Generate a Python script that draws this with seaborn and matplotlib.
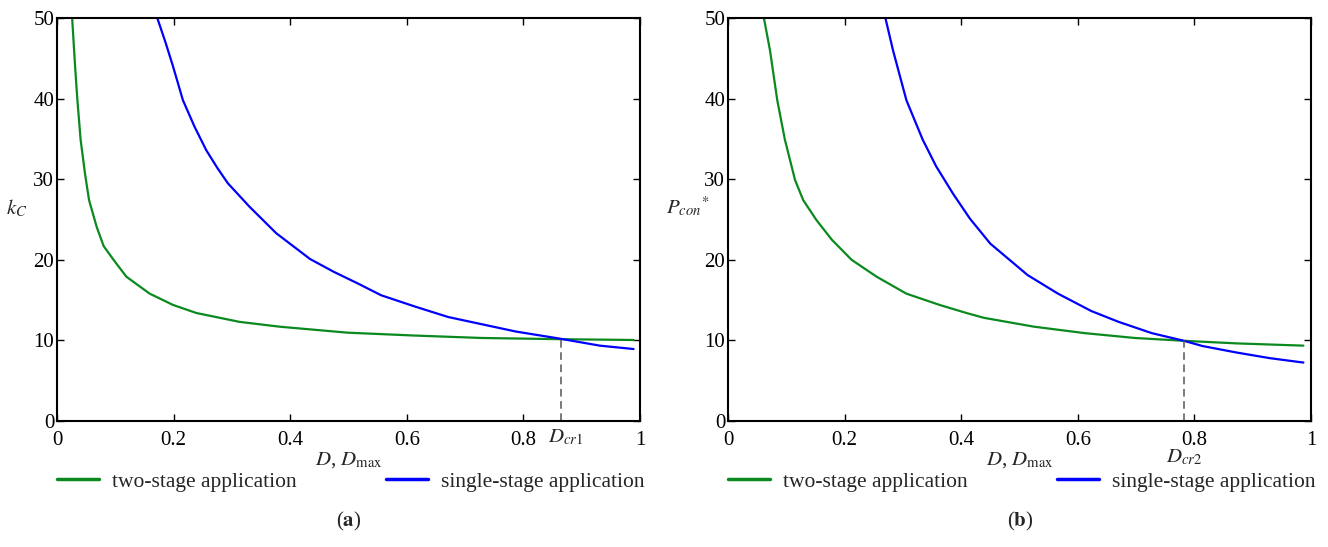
import matplotlib
matplotlib.use('Agg')
from matplotlib import pyplot as plt
import seaborn as sns
import numpy as np
import pandas as pd

# (a) k_C versus D
a_two_D = [0.026, 0.031, 0.035, 0.0405, 0.048, 0.055, 0.068, 0.08, 0.098, 0.119, 0.159, 0.199, 0.239, 0.313, 0.382, 0.498, 0.614, 0.729, 0.864, 0.989]
a_two_k = [50.0, 44.0, 39.8, 34.9, 30.7, 27.4, 24.1, 21.7, 19.9, 17.9, 15.8, 14.4, 13.4, 12.3, 11.7, 10.96, 10.6, 10.3, 10.15, 10.05]
a_one_D = [0.172, 0.186, 0.199, 0.216, 0.236, 0.256, 0.275, 0.293, 0.330, 0.376, 0.434, 0.475, 0.515, 0.556, 0.614, 0.671, 0.729, 0.787, 0.864, 0.931, 0.989]
a_one_k = [50.0, 47.0, 44.0, 39.8, 36.5, 33.6, 31.4, 29.5, 26.6, 23.3, 20.1, 18.5, 17.1, 15.6, 14.2, 12.9, 12.0, 11.1, 10.2, 9.35, 8.93]
a_cr = 0.864
a_cr_top = 10.5

# (b) P_con* versus D
b_two_D = [0.0616, 0.072, 0.0845, 0.0976, 0.115, 0.129, 0.152, 0.178, 0.212, 0.255, 0.306, 0.363, 0.409, 0.439, 0.525, 0.612, 0.698, 0.782, 0.872, 0.987]
b_two_P = [50.0, 46.0, 39.8, 34.9, 29.9, 27.4, 24.9, 22.5, 20.0, 17.9, 15.8, 14.4, 13.4, 12.8, 11.7, 10.9, 10.3, 9.95, 9.63, 9.35]
b_one_D = [0.270, 0.283, 0.306, 0.334, 0.357, 0.386, 0.415, 0.450, 0.514, 0.566, 0.623, 0.670, 0.727, 0.782, 0.814, 0.872, 0.929, 0.987]
b_one_P = [50.0, 46.0, 39.8, 34.9, 31.6, 28.2, 25.1, 22.0, 18.1, 15.8, 13.65, 12.3, 10.9, 9.95, 9.3, 8.5, 7.8, 7.25]
b_cr = 0.782
b_cr_top = 10.0

series_names = ['two-stage application', 'single-stage application']
xticks = [0, 0.2, 0.4, 0.6, 0.8, 1]
xticklabels = ['0', '0.2', '0.4', '0.6', '0.8', '1']
yticks = [0, 10, 20, 30, 40, 50]

sns.set_style('ticks')
plt.rcParams['font.family'] = ['Liberation Serif', 'DejaVu Serif']
plt.rcParams['mathtext.fontset'] = 'stix'

green = '#0a8a1e'
blue = '#0000ff'

def make_df(d1, v1, d2, v2):
    return pd.concat([
        pd.DataFrame({'D': d1, 'v': v1, 'series': series_names[0]}),
        pd.DataFrame({'D': d2, 'v': v2, 'series': series_names[1]}),
    ])

df_a = make_df(a_two_D, a_two_k, a_one_D, a_one_k)
df_b = make_df(b_two_D, b_two_P, b_one_D, b_one_P)

fig = plt.figure(figsize=(13.28, 5.47), dpi=100)
ax_a = fig.add_axes([57/1328, 1-421/547, 583/1328, 403/547])
ax_b = fig.add_axes([728/1328, 1-421/547, 583/1328, 403/547])

for ax, df, cr, crtop, ylab in [
        (ax_a, df_a, a_cr, a_cr_top, r'$k_C$'),
        (ax_b, df_b, b_cr, b_cr_top, r'$P_{con}{}^{*}$')]:
    sns.lineplot(data=df, x='D', y='v', hue='series', palette=[green, blue],
                 linewidth=1.6, ax=ax, sort=False, estimator=None)
    ax.plot([cr, cr], [0, crtop], color='#555555', lw=1.1, ls=(0, (5, 3)))
    ax.set_xlim(0, 1)
    ax.set_ylim(0, 50)
    ax.set_xticks(xticks)
    ax.set_xticklabels(xticklabels)
    ax.set_yticks(yticks)
    ax.tick_params(direction='in', length=5, width=1, top=True, right=True,
                   labelsize=15, colors='black')
    ax.tick_params(axis='y', pad=2)
    ax.tick_params(axis='x', pad=7)
    for s in ax.spines.values():
        s.set_linewidth(1.5)
        s.set_color('black')
    ax.set_xlabel(r'$D$, $D_{\mathrm{max}}$', fontsize=15, labelpad=0)
    ax.set_ylabel(ylab, fontsize=15, rotation=0, labelpad=12)
    ax.legend(loc='upper left', bbox_to_anchor=(0, -0.126), ncol=2, frameon=False,
              fontsize=15.5, handlelength=1.95, handletextpad=0.6, columnspacing=4.15,
              borderpad=0, borderaxespad=0)
    for ln in ax.get_legend().get_lines():
        ln.set_linewidth(2.5)

ax_a.annotate(r'$D_{cr\mathrm{1}}$', xy=(a_cr + 0.009, 0), xycoords='data',
              xytext=(0, -12), textcoords='offset points',
              ha='center', va='center', fontsize=15)
ax_b.annotate(r'$D_{cr\mathrm{2}}$', xy=(b_cr, 0), xycoords='data',
              xytext=(0, -26.5), textcoords='offset points',
              ha='center', va='center', fontsize=15)

fig.text(349/1328, 1-521/547, r'($\mathbf{a}$)', ha='center', va='center', fontsize=15)
fig.text(1020/1328, 1-521/547, r'($\mathbf{b}$)', ha='center', va='center', fontsize=15)

fig.savefig('out.png', dpi=100)
